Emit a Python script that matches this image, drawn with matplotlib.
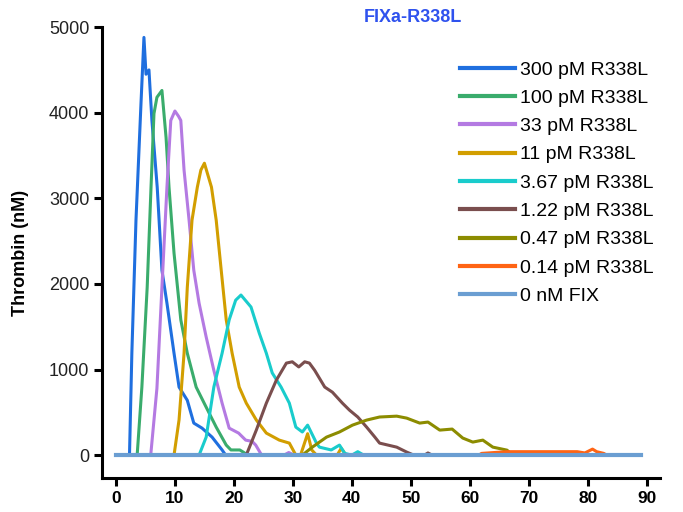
import matplotlib
matplotlib.use('Agg')
import matplotlib.pyplot as plt

plt.rcParams['font.family'] = ['Liberation Sans', 'DejaVu Sans']

# 时间 (min) 和 凝血酶 (nM)
t_300 = [0, 2.3, 2.7, 3.4, 4.25, 4.75, 5.1, 5.6, 6.1, 7.0, 7.8, 8.65, 9.85, 10.7, 12.1, 13.2,
         14.6, 16.3, 18.0, 18.6, 89]
y_300 = [0, 0, 1190, 2745, 4110, 4880, 4450, 4500, 3910, 3130, 2160, 1775, 1190, 795, 640, 374,
         315, 210, 60, 0, 0]

t_100 = [0, 3.6, 4.4, 5.3, 5.95, 6.45, 6.95, 7.8, 8.5, 9.0, 9.85, 11.0, 12.1, 13.6, 15.3,
         17.0, 18.7, 19.5, 21, 21.7, 22.3, 89]
y_100 = [0, 0, 795, 1960, 3130, 3990, 4180, 4260, 3710, 3130, 2360, 1580, 1190, 795, 560,
         327, 117, 60, 60, 30, 0, 0]

t_33 = [0, 5.9, 6.95, 7.8, 8.65, 9.3, 10.0, 10.6, 11.0, 11.55, 12.4, 13.2, 14.1, 15.3, 16.6,
        18.0, 19.2, 20.8, 22.0, 23.1, 23.7, 24.7, 28.5, 29.3, 30.2, 89]
y_33 = [0, 0, 780, 1960, 3130, 3910, 4020, 3960, 3910, 3330, 2745, 2160, 1775, 1380, 990,
        607, 315, 257, 175, 160, 117, 0, 0, 30, 0, 0]

t_11 = [0, 9.85, 10.7, 11.55, 12.1, 12.9, 13.8, 14.4, 15.0, 16.2, 17.0, 17.85, 18.7, 19.7,
        20.9, 22.1, 23.8, 25.5, 27.7, 29.4, 30.5, 31.3, 32.5, 33.2, 34, 37.5, 38.2, 39, 89]
y_11 = [0, 0, 410, 1190, 1960, 2745, 3130, 3330, 3410, 3130, 2745, 2160, 1580, 1190,
        795, 607, 410, 257, 175, 140, 0, 0, 250, 60, 0, 0, 80, 0, 0]

t_367 = [0, 14.1, 15.3, 16.6, 18.0, 19.2, 20.3, 21.2, 22.9, 24.3, 25.5, 26.5, 28.0, 29.4,
         30.5, 31.6, 32.5, 34.0, 34.5, 36.5, 37.9, 38.8, 40, 41, 42, 89]
y_367 = [0, 0, 210, 795, 1190, 1580, 1810, 1870, 1730, 1425, 1190, 960, 795, 607,
         327, 270, 350, 140, 93, 60, 117, 20, 0, 40, 0, 0]

t_122 = [0, 22.1, 23.8, 25.5, 27.2, 28.9, 29.9, 31.0, 32.0, 32.8, 33.7, 35.4, 36.7, 38.4, 39.6,
         41.0, 42.5, 43.9, 44.7, 47.6, 49.3, 50.5, 52.3, 52.9, 53.6, 89]
y_122 = [0, 0, 292, 607, 876, 1075, 1090, 1030, 1090, 1075, 990, 795, 735, 607, 525,
         445, 327, 210, 140, 93, 35, 0, 0, 25, 0, 0]

t_047 = [0, 31.6, 33.3, 35.7, 37.9, 40.1, 42.5, 44.7, 47.6, 49.3, 51.5, 52.9, 54.9, 57.0, 58.8,
         60.5, 62.2, 63.9, 66.3, 67.2, 89]
y_047 = [0, 0, 93, 210, 270, 350, 409, 445, 455, 432, 374, 386, 292, 304, 199,
         152, 175, 93, 58, 0, 0]

t_014 = [0, 61.5, 62, 66.3, 78.2, 79.5, 80.8, 81.5, 82.7, 83.2, 89]
y_014 = [0, 0, 20, 40, 40, 25, 70, 40, 20, 0, 0]

t_0 = [0, 89]
y_0 = [0, 0]

labels = ['300 pM R338L', '100 pM R338L', '33 pM R338L', '11 pM R338L', '3.67 pM R338L',
          '1.22 pM R338L', '0.47 pM R338L', '0.14 pM R338L', '0 nM FIX']
colors = ['#1f6fdf', '#3aac6c', '#b47ae2', '#d29e00', '#19cccc', '#7a4e4e', '#8c8c00', '#ff6414', '#6b9ed2']
series = [(t_300, y_300), (t_100, y_100), (t_33, y_33), (t_11, y_11), (t_367, y_367),
          (t_122, y_122), (t_047, y_047), (t_014, y_014), (t_0, y_0)]

fig = plt.figure(figsize=(6.83, 5.12), dpi=100)
ax = fig.add_axes([0.149, 0.066, 0.817, 0.881])

for (t, y), c, lab in zip(series, colors, labels):
    lw = 3.0 if lab == '0 nM FIX' else 2.2
    ax.plot(t, y, color=c, lw=lw, label=lab)

ax.set_xlim(-2.4, 92.2)
ax.set_ylim(-270, 5000)
ax.set_xticks(range(0, 91, 10))
ax.set_yticks(range(0, 5001, 1000))
for s in ['top', 'right']:
    ax.spines[s].set_visible(False)
for s in ['left', 'bottom']:
    ax.spines[s].set_linewidth(2.2)
ax.tick_params(width=2.2, length=6, pad=3)
ax.tick_params(axis='y', labelsize=13, colors='black', labelcolor='#222222')
ax.tick_params(axis='x', labelsize=12.5)
for lab in ax.get_xticklabels():
    lab.set_fontweight('bold')
ax.set_ylabel('Thrombin (nM)', fontsize=13, fontweight='bold', labelpad=14)

fig.text(0.605, 0.965, 'FIXa-R338L', color='#2f52ee', fontsize=13, fontweight='bold',
         ha='center', va='center')

leg = ax.legend(loc='upper left', bbox_to_anchor=(0.642, 0.925), frameon=False, fontsize=14,
                handlelength=2.85, handletextpad=0.25, labelspacing=0.55, borderaxespad=0,
                borderpad=0)
for line in leg.get_lines():
    line.set_linewidth(3)

plt.savefig('out.png', dpi=100)
